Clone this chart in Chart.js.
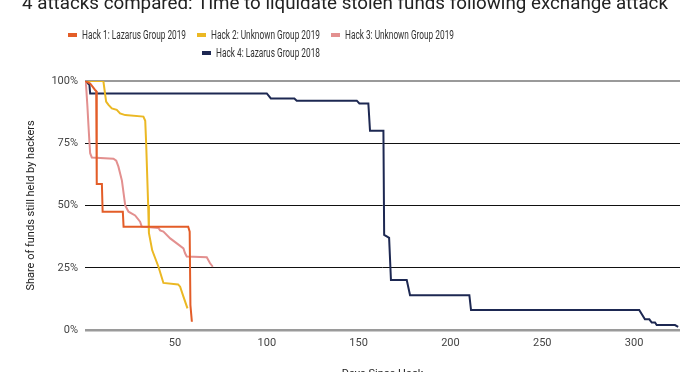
<!DOCTYPE html>
<html><head><meta charset="utf-8">
<script src="https://cdn.jsdelivr.net/npm/chart.js@4.4.0/dist/chart.umd.min.js"></script>
<style>
html,body{margin:0;padding:0;width:700px;height:372px;overflow:hidden;background:#fff;}
#wrap{position:absolute;left:0;top:0;width:700px;height:400px;}
</style></head><body>
<div id="wrap"><canvas id="c" width="700" height="400"></canvas></div>
<script>
const chartTitle = "4 attacks compared: Time to liquidate stolen funds following exchange attack";
const xAxisTitle = "Days Since Hack";
const yAxisTitle = "Share of funds still held by hackers";
const seriesNames = ["Hack 1: Lazarus Group 2019", "Hack 2: Unknown Group 2019", "Hack 3: Unknown Group 2019", "Hack 4: Lazarus Group 2018"];
const seriesColors = ["#e35d28", "#ebb824", "#e3908f", "#1d2852"];

const hack1Days  = [1, 3.8, 6.5, 7.1, 7.4, 10.2, 10.6, 21.6, 22, 57.2, 58, 58.4, 59.2];
const hack1Share = [100, 99, 96.4, 96, 58.6, 58.6, 47.5, 47.5, 41.5, 41.5, 39.5, 10, 3.3];

const hack2Days  = [1, 11, 12.5, 13.8, 15.6, 18.3, 20.1, 22.9, 32.8, 33.8, 34.3, 35.4, 35.8, 37.6, 41, 43.7, 51.7, 52.8, 54.6, 56.8];
const hack2Share = [100, 100, 91.7, 90.4, 89, 88.4, 87, 86.3, 85.7, 84, 75, 50, 39, 32, 25.4, 18.9, 18.3, 17.4, 13.4, 8.7];

const hack3Days  = [1, 1.6, 2.3, 2.9, 3.4, 3.8, 4.7, 16.5, 18, 19.2, 21.1, 22.9, 24.7, 28.3, 31, 31.9, 41, 41.9, 43.7, 47.4, 51, 54.6, 55.5, 56.4, 67.3, 69.1, 70.6];
const hack3Share = [100, 98, 90, 82, 75.6, 71, 69.3, 68.8, 68, 65.6, 60, 50, 47.5, 46, 43.5, 41.5, 41, 40, 39.5, 36.8, 34.8, 32.8, 30.8, 29.5, 29.2, 26.8, 25.4];

const hack4Days  = [1, 3.4, 3.8, 100, 102.2, 115, 116.3, 149, 150.4, 155.3, 156.2, 163.5, 163.9, 166.2, 166.6, 167.6, 176.2, 178, 210.3, 211.2, 302.8, 305.9, 308.3, 309.6, 311.4, 312.3, 322.3, 324];
const hack4Share = [100, 98.5, 95, 95, 93, 93, 92.1, 92.1, 91, 91, 80, 80, 38.2, 37.2, 37, 20.1, 20.1, 14, 14, 8, 8, 4.3, 4.3, 3, 3, 2, 2, 1.3];

const xMin = 1, xMax = 325, xStep = 50;
const yMin = 0, yMax = 100, yStep = 25;

function pts(d, s) { return d.map((x, i) => ({x: x, y: s[i]})); }
const allDays = [hack1Days, hack2Days, hack3Days, hack4Days];
const allShares = [hack1Share, hack2Share, hack3Share, hack4Share];

const datasets = seriesNames.map((name, i) => ({
  label: name,
  data: pts(allDays[i], allShares[i]),
  borderColor: seriesColors[i],
  backgroundColor: seriesColors[i],
  borderWidth: 2,
  pointRadius: 0,
  fill: false,
  tension: 0
}));

const overlay = {
  id: 'overlay',
  afterDraw(chart) {
    const ctx = chart.ctx;
    ctx.save();
    // title
    ctx.font = '20px Roboto';
    const w = ctx.measureText(chartTitle).width;
    const size = 20 * 646 / w;
    ctx.font = size.toFixed(2) + 'px Roboto';
    ctx.fillStyle = '#222';
    ctx.textAlign = 'center';
    ctx.textBaseline = 'alphabetic';
    ctx.fillText(chartTitle, 345, 9);
    // legend (condensed text)
    ctx.font = '12px Roboto';
    ctx.textAlign = 'left';
    ctx.textBaseline = 'middle';
    const condense = 0.69;
    const rows = [[0, 1, 2], [3]];
    const rowY = [35, 53];
    const boxW = 9, boxH = 4, gapText = 5, gapItem = 11, cx = 261;
    rows.forEach((row, r) => {
      const widths = row.map(i => boxW + gapText + condense * ctx.measureText(chart.data.datasets[i].label).width);
      const total = widths.reduce((a, b) => a + b, 0) + gapItem * (row.length - 1);
      let x = cx - total / 2;
      row.forEach((i, k) => {
        const ds = chart.data.datasets[i];
        ctx.fillStyle = ds.borderColor;
        ctx.fillRect(Math.round(x), rowY[r] - boxH / 2, boxW, boxH);
        ctx.fillStyle = '#333';
        ctx.save();
        ctx.translate(x + boxW + gapText, rowY[r] + 0.5);
        ctx.scale(condense, 1);
        ctx.fillText(ds.label, 0, 0);
        ctx.restore();
        x += widths[k] + gapItem;
      });
    });
    ctx.restore();
  }
};

new Chart(document.getElementById('c'), {
  type: 'line',
  data: { datasets: datasets },
  options: {
    responsive: false,
    animation: false,
    devicePixelRatio: 1,
    layout: { padding: { top: 81, right: 20, left: 0, bottom: 0 } },
    plugins: { legend: { display: false }, title: { display: false }, tooltip: { enabled: false } },
    scales: {
      x: {
        type: 'linear',
        min: xMin, max: xMax,
        ticks: { stepSize: xStep, font: { family: 'Roboto', size: 11 }, color: '#444', padding: 7, maxRotation: 0 },
        afterBuildTicks: (s) => { s.ticks = s.ticks.filter(t => t.value % xStep === 0 && t.value > 0); },
        afterFit: (s) => { s.height = 70; },
        grid: { display: false, drawTicks: false },
        border: { display: false },
        title: { display: true, text: xAxisTitle, font: { family: 'Roboto', size: 11 }, color: '#222', padding: { top: 4, bottom: 19 } }
      },
      y: {
        min: yMin, max: yMax,
        ticks: { stepSize: yStep, callback: v => v + '%', font: { family: 'Roboto', size: 11 }, color: '#444', padding: 7 },
        afterFit: (s) => { s.width = 85; },
        grid: {
          drawTicks: false,
          color: c => (c.tick && (c.tick.value === 0 || c.tick.value === 100)) ? '#9a9a9a' : '#111',
          lineWidth: c => (c.tick && c.tick.value === 0) ? 2.5 : ((c.tick && c.tick.value === 100) ? 2 : 1)
        },
        border: { display: false },
        title: { display: true, text: yAxisTitle, font: { family: 'Roboto', size: 11 }, color: '#222', padding: { top: 25, bottom: 0 } }
      }
    }
  },
  plugins: [overlay]
});
</script>
</body></html>
